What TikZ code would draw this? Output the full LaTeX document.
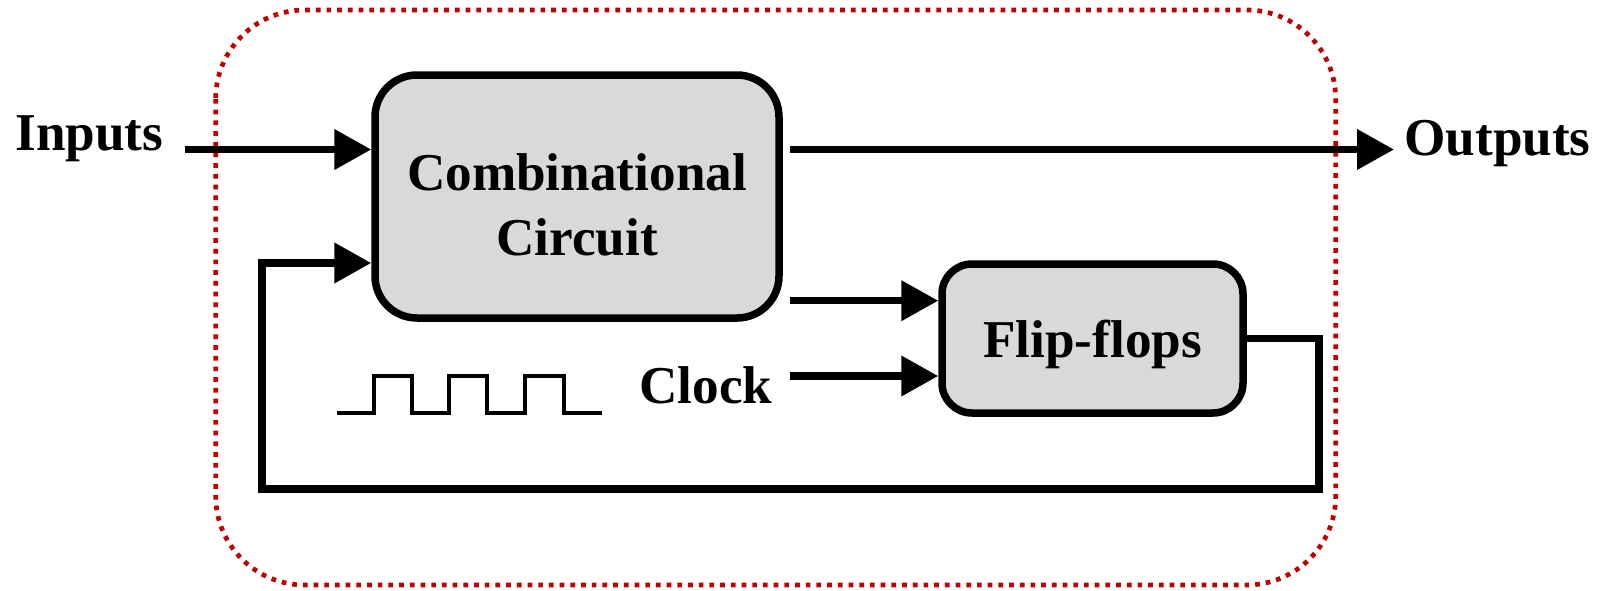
\documentclass[tikz,border=0pt]{standalone}
\usepackage{fontspec}
\setmainfont{Liberation Serif}
\usetikzlibrary{arrows.meta}
\definecolor{boxgray}{HTML}{D9D9D9}
\definecolor{framered}{HTML}{C00000}
\begin{document}
\begin{tikzpicture}[x=0.5pt,y=-0.5pt,
  lbl/.style={inner sep=0pt, font=\bfseries\fontsize{26.6pt}{33pt}\selectfont},
  block/.style={draw, fill=boxgray, line width=3.75pt, rounded corners=#1, inner sep=0pt},
  wire/.style={line width=3.7pt},
  arr/.style={wire, -{Triangle[length=18.5pt,width=19.5pt]}},
  wave/.style={line width=2.3pt},
  frame/.style={draw=framered, line width=2.35pt, dash pattern=on 2.35pt off 3pt, rounded corners=44.5pt}]
\useasboundingbox (0,0) rectangle (1608,590);

% sequential circuit boundary
\draw[frame] (215.7,10) rectangle (1335.7,585);

% blocks
\node[block=21pt, minimum width=202pt, minimum height=121.5pt] (comb) at (577,196.5) {};
\node[lbl, anchor=base] (combA) at (577,190) {Combinational};
\node[lbl, anchor=base] (combB) at (577,255) {Circuit};
\node[block=15pt, minimum width=150.5pt, minimum height=74.5pt] (ff) at (1092.5,338.5) {};
\node[lbl, anchor=base] (fftxt) at (1092.5,357.5) {Flip-flops};

% external labels
\node[lbl, anchor=base west] (inputs) at (15,150) {Inputs};
\node[lbl, anchor=base west] (outputs) at (1404,155) {Outputs};
\node[lbl, anchor=base west] (clock) at (639,403) {Clock};

% connector end points
\coordinate (inS) at (185,149.5);
\coordinate (outS) at (790,149.5);
\coordinate (outE) at (1394,149.5);
\coordinate (c2f) at (790,300.7);
\coordinate (clk) at (790,376);
\coordinate (fbR) at (1319,489);
\coordinate (fbL) at (262,489);
\coordinate (fbIn) at (262,263);

% signal arrows
\draw[arr] (inS) -- (inS -| comb.west);
\draw[arr] (outS) -- (outE);
\draw[arr] (c2f) -- (c2f -| ff.west);
\draw[arr] (clk) -- (clk -| ff.west);

% state feedback loop
\draw[arr] (ff.east) -| (fbR) -- (fbL) |- (fbIn -| comb.west);

% clock waveform
\draw[wave] (337,413) -- (374,413) -- (374,376) -- (412,376) -- (412,413)
  -- (449,413) -- (449,376) -- (487,376) -- (487,413)
  -- (525,413) -- (525,376) -- (564,376) -- (564,413) -- (602,413);
\end{tikzpicture}
\end{document}
